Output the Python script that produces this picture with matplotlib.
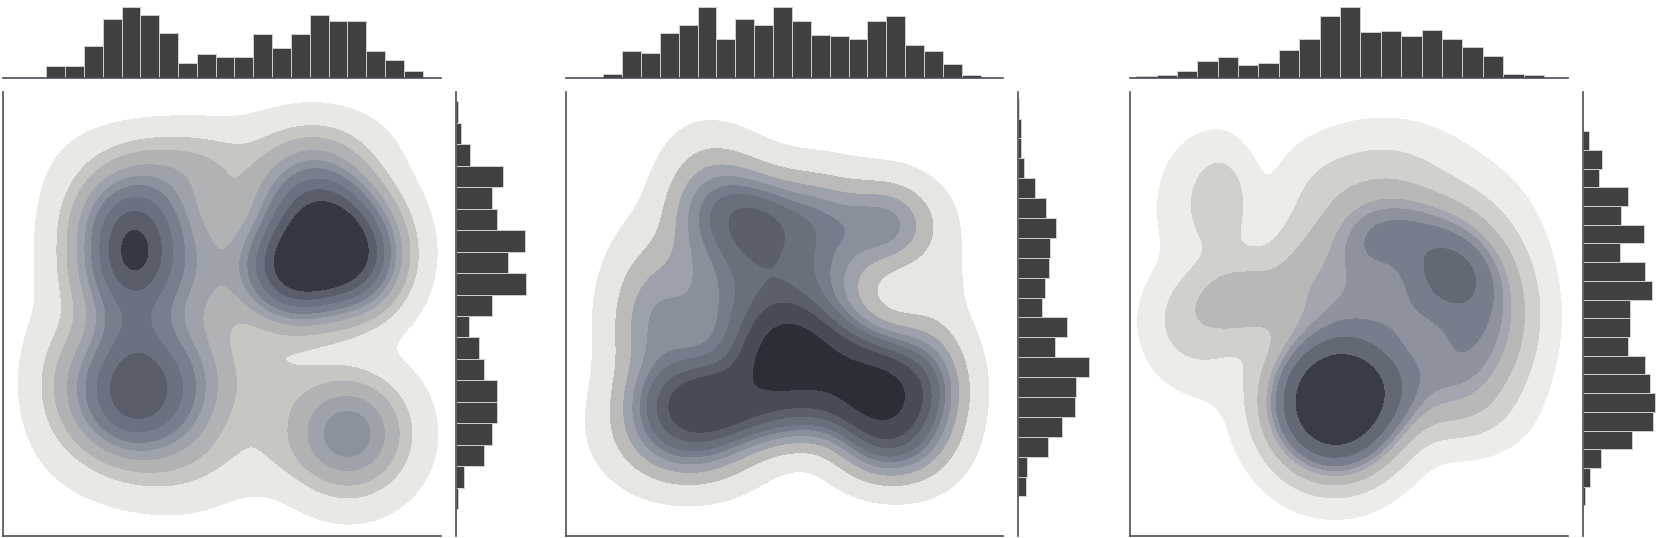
import numpy as np
import matplotlib
matplotlib.use("Agg")
import matplotlib.pyplot as plt

W, H = 1661, 538

# Histogram heights, in reference pixels (3x zoom)
top1 = [35, 35, 93, 172, 207, 185, 131, 43, 70, 61, 61, 128, 87, 128, 185, 166, 166, 78, 52, 20]
side1 = [8, 16, 41, 133, 103, 115, 195, 147, 198, 103, 39, 67, 81, 115, 117, 103, 81, 25, 8, 2]
top2 = [13, 80, 74, 130, 156, 207, 115, 172, 156, 207, 165, 125, 122, 115, 165, 180, 95, 80, 40, 8]
side2 = [4, 7, 7, 18, 48, 78, 106, 90, 86, 75, 67, 137, 103, 198, 162, 160, 123, 83, 24, 21]
top3 = [5, 9, 19, 51, 61, 39, 45, 83, 115, 182, 207, 133, 138, 124, 141, 115, 90, 64, 13, 10]
side3 = [17, 54, 45, 128, 108, 173, 105, 176, 194, 134, 134, 128, 176, 188, 202, 196, 139, 51, 20, 6]

# Bin ranges, percent of the main axes
top_range = [(10.0, 95.8), (8.6, 94.9), (1.4, 94.5)]
side_range = [(97.9, 1.2), (98.5, 8.9), (91.2, 6.9)]

# Density kernels per panel: x, y, sigma x, sigma y, weight
kx1 = [30, 30, 30, 30, 30, 40, 77, 71, 82, 66, 47, 42, 60, 79, 36, 60, 30, 18, 12, 70, 40]
ky1 = [71, 59, 48, 38, 28, 82, 64, 74, 62, 60, 60, 33, 33, 23, 15, 18, 64, 33, 36, 88, 88]
sx1 = [8, 8, 7, 8, 8, 12, 7.5, 8, 6, 7, 7, 7, 9, 8, 11, 10, 4, 6, 5, 10, 12]
sy1 = [7, 7, 5, 7, 7, 5, 8, 8, 7, 7, 12, 10, 9, 8, 6, 5, 5, 9, 10, 5, 4]
w1 = [.40, .40, .12, .35, .35, .08, .55, .40, .15, .55, .10, .14, .05, .25, .03, .02, .10, .05, .02, .03, .02]

kx2 = [50, 60, 72, 46, 28, 38, 43, 42, 34, 50, 60, 73, 55, 38, 35, 20, 30, 28, 74, 50, 82, 86]
ky2 = [43, 38, 32, 37, 31, 31, 69, 63, 46, 58, 60, 70, 72, 74, 82, 48, 70, 23, 21, 28, 33, 58]
sx2 = [7, 8, 7, 6, 8, 8, 6, 8, 10, 8, 7, 7, 8, 7, 6, 6, 5.5, 9, 7, 12, 6, 5]
sy2 = [7, 7, 7, 5, 6, 6, 6, 10, 11, 9, 10, 6, 6, 6, 6, 11, 10, 6.5, 5.5, 5, 9, 7]
w2 = [.45, .45, .55, .15, .24, .22, .12, .12, .115, .14, .10, .16, .12, .13, .035, .11, .07, .22, .18, .16, .18, .012]

kx3 = [46.7, 58, 72, 58, 66, 76, 85, 23, 21, 18, 14, 10, 33, 40, 50, 52, 78, 75, 62, 58, 75, 22, 72, 15, 45]
ky3 = [30, 34, 59, 68, 68, 55, 50, 53, 76, 72, 46, 50, 55, 62, 50, 62, 40, 28, 49, 80, 72, 38, 38, 78, 78]
sx3 = [8, 8, 7, 8, 9, 7, 6, 7, 4, 7, 6, 5, 7, 5, 8, 7, 7, 8, 6, 10, 9, 6, 7, 5, 6]
sy3 = [8.5, 7, 6, 6, 6, 9, 10, 6, 7, 9, 7, 6, 7, 9, 8, 8, 9, 5, 6, 7, 8, 6, 7, 8, 6]
w3 = [.95, .18, .22, .10, .12, .16, .08, .10, .05, .025, .04, .01, .06, .05, .11, .10, .10, .03, .10, .06, .02, .012, .08, .01, .02]

# Contour levels and band colours
lv1 = [.01, .05, .09, .15, .21, .27, .36, .47, .60]
col1 = ["#e8e8e4", "#c6c7c3", "#b0b2b4", "#9ea2ab", "#8c919e", "#797e8d", "#6c7180", "#5a5e6b", "#343842"]
lv2 = [.01, .05, .10, .15, .20, .25, .33, .42, .60]
col2 = ["#e6e7e3", "#bbbcba", "#9da1ab", "#8a8f9c", "#777c8b", "#6a6f7c", "#5b5f6b", "#474b57", "#2b2e37"]
lv3 = [.008, .04, .09, .15, .19, .24, .34, .53]
col3 = ["#ecede9", "#d0d0cc", "#b8b8b8", "#a3a6af", "#8e929f", "#787d8c", "#636875", "#393c46"]

# Panel boxes in pixels: main left, main right, side baseline
boxes = [(2.5, 441, 455.5), (565.5, 1003, 1018), (1130, 1568, 1582.5)]
line_col = "#4a4e58"
bar_col = "#404040"
edge_col = "#cfcfcf"

panels = [
    (top1, side1, kx1, ky1, sx1, sy1, w1, lv1, col1),
    (top2, side2, kx2, ky2, sx2, sy2, w2, lv2, col2),
    (top3, side3, kx3, ky3, sx3, sy3, w3, lv3, col3),
]


def px_axes(fig, x0, x1, y0, y1):
    # y measured from the top of the image
    return fig.add_axes([x0 / W, 1 - y1 / H, (x1 - x0) / W, (y1 - y0) / H])


def density(kx, ky, sx, sy, w):
    gx, gy = np.meshgrid(np.linspace(0, 100, 300), np.linspace(0, 100, 300))
    z = np.zeros_like(gx)
    for a, b, c, d, e in zip(kx, ky, sx, sy, w):
        z += e * np.exp(-0.5 * (((gx - a) / c) ** 2 + ((gy - b) / d) ** 2))
    return gx, gy, z


fig = plt.figure(figsize=(W / 100, H / 100), dpi=100, facecolor="white")

for i, (top, side, kx, ky, sx, sy, w, lv, col) in enumerate(panels):
    x0, x1, sb = boxes[i]

    ax = px_axes(fig, x0, x1, 92, 536)
    gx, gy, z = density(kx, ky, sx, sy, w)
    ax.contourf(gx, gy, z, levels=lv + [50], colors=col)
    ax.set_xlim(0, 100)
    ax.set_ylim(0, 100)

    ax_top = px_axes(fig, x0, x1, 4, 78)
    edges = np.linspace(top_range[i][0], top_range[i][1], len(top) + 1)
    ax_top.bar(edges[:-1], top, width=np.diff(edges), align="edge",
               color=bar_col, edgecolor=edge_col, linewidth=0.7)
    ax_top.set_xlim(0, 100)
    ax_top.set_ylim(0, 216)

    ax_side = px_axes(fig, sb, sb + 75, 92, 536)
    edges = np.linspace(side_range[i][0], side_range[i][1], len(side) + 1)
    ax_side.barh(edges[:-1], side, height=np.diff(edges), align="edge",
                 color=bar_col, edgecolor=edge_col, linewidth=0.7)
    ax_side.set_ylim(0, 100)
    ax_side.set_xlim(0, 210)

    for a, keep in ((ax, ("left", "bottom")), (ax_top, ("bottom",)), (ax_side, ("left",))):
        a.set_xticks([])
        a.set_yticks([])
        a.patch.set_alpha(0)
        for name, sp in a.spines.items():
            sp.set_visible(name in keep)
            sp.set_color(line_col)
            sp.set_linewidth(1.2)

fig.savefig("out.png", dpi=100)
